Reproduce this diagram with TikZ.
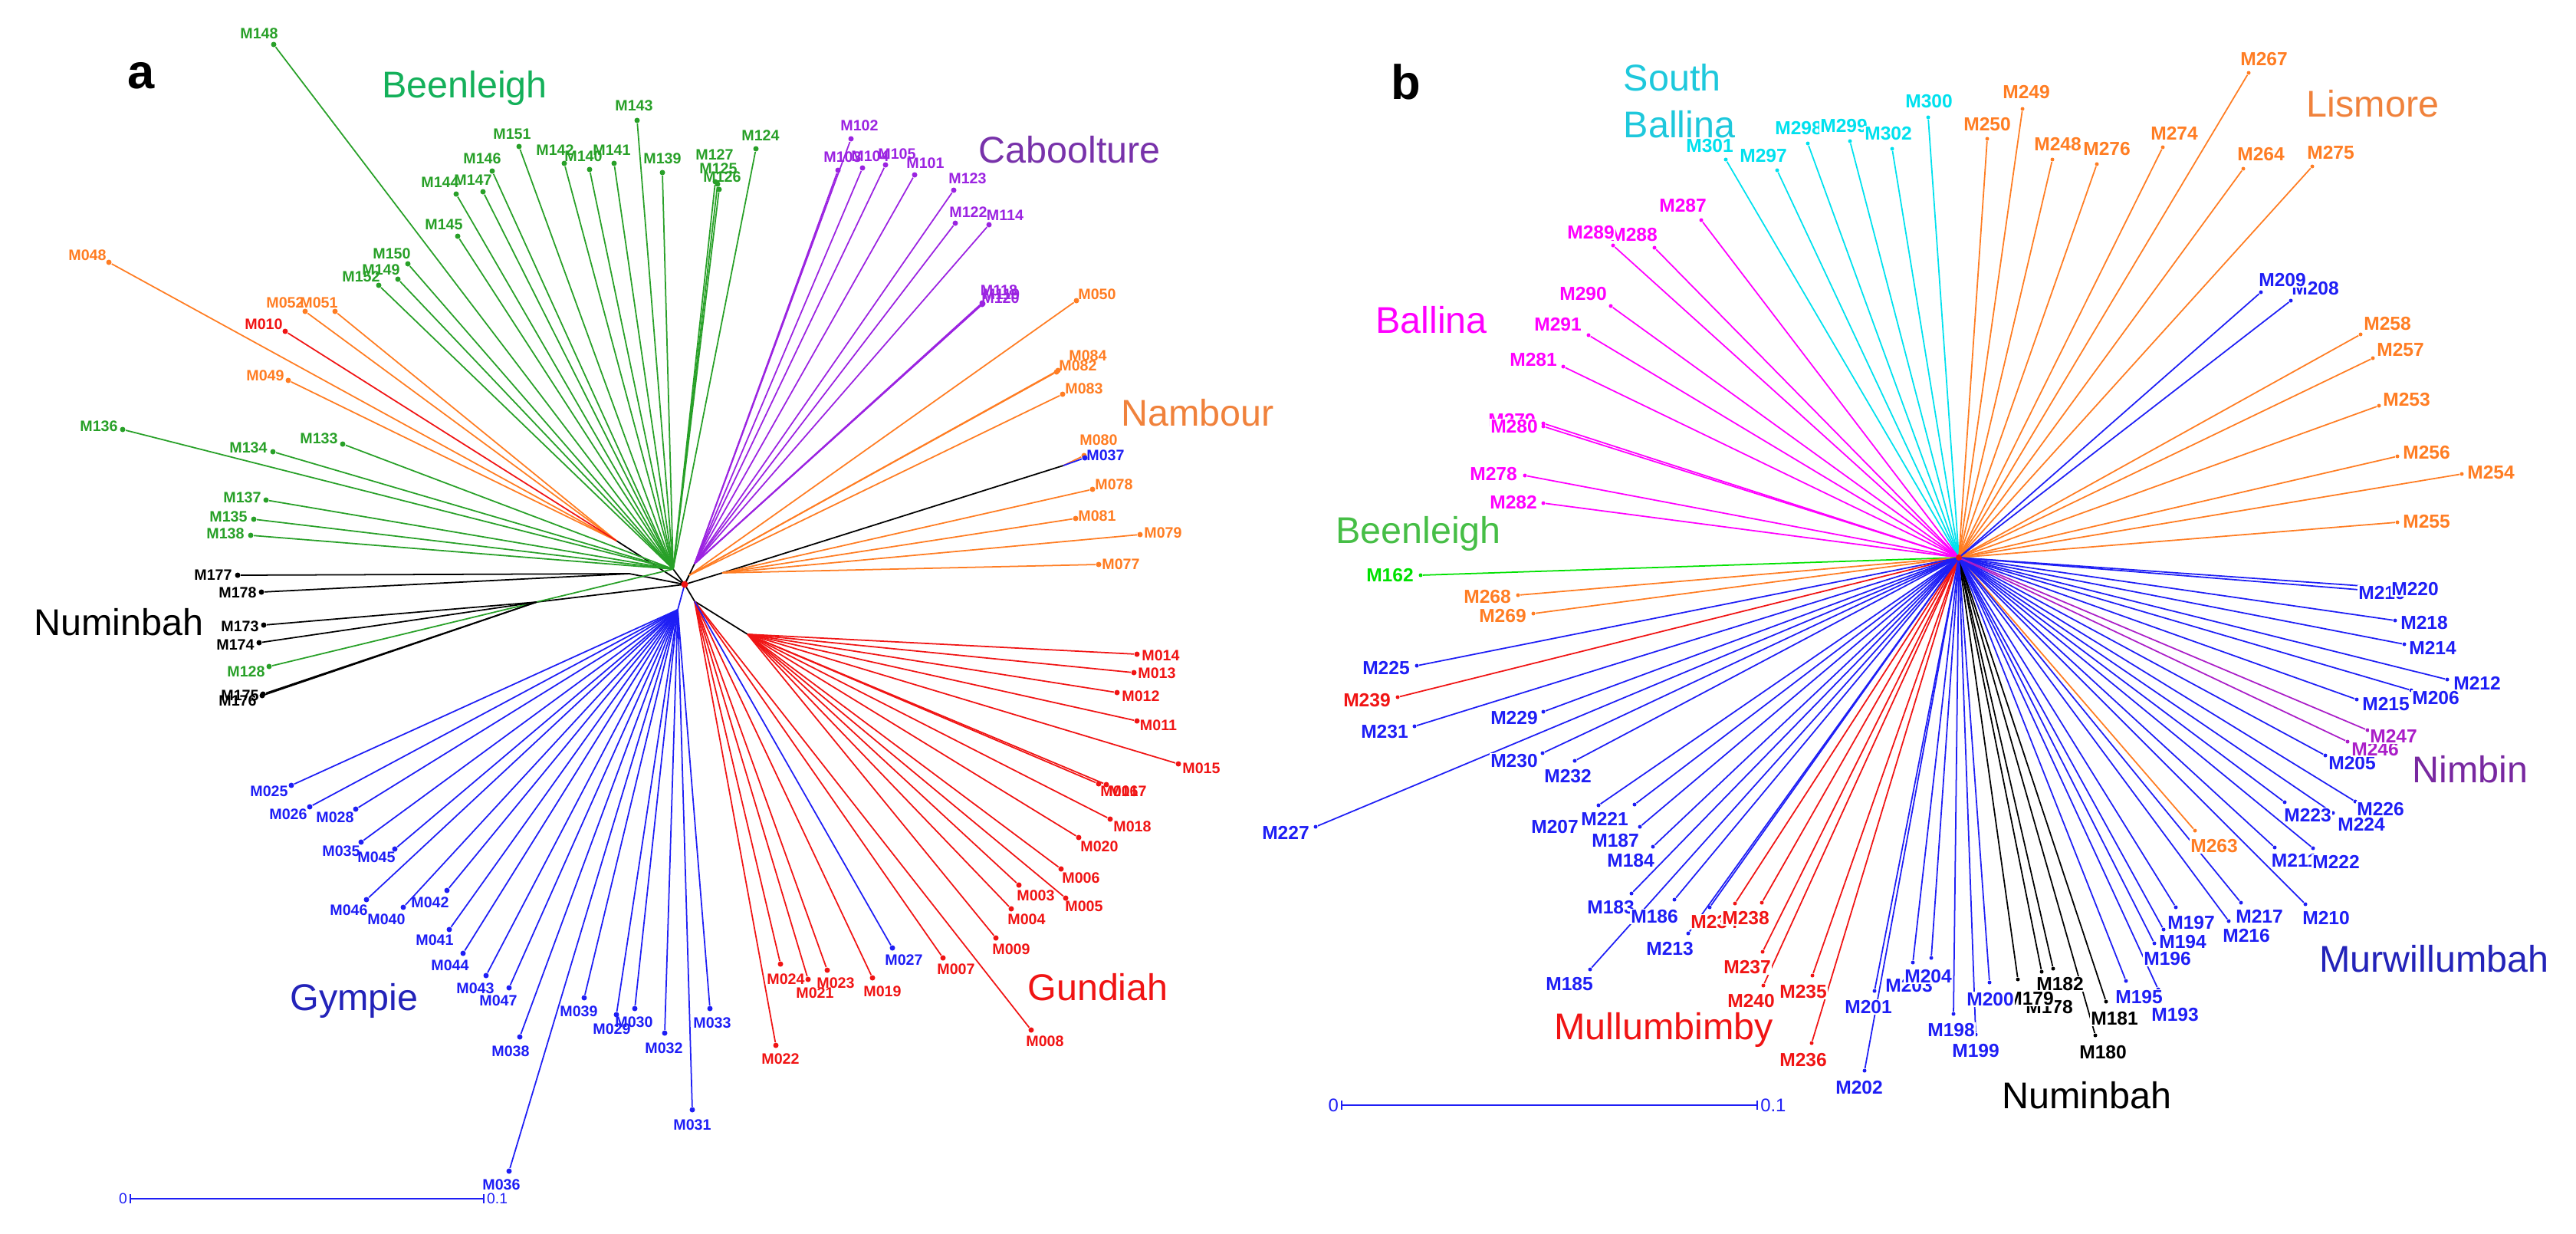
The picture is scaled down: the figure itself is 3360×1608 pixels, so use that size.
\documentclass[tikz,border=0pt]{standalone}
\usepackage{fontspec}
\setmainfont{Liberation Sans}
\pgfdeclarelayer{front}
\pgfsetlayers{main,front}
\definecolor{leafgreen}{RGB}{40,160,40}
\definecolor{cladegreen}{RGB}{20,176,90}
\definecolor{leaforange}{RGB}{255,125,35}
\definecolor{cladeorange}{RGB}{240,130,60}
\definecolor{leafred}{RGB}{240,20,20}
\definecolor{leafpurple}{RGB}{155,35,225}
\definecolor{cladepurple}{RGB}{120,50,170}
\definecolor{leafblue}{RGB}{30,30,245}
\definecolor{cladeblue}{RGB}{35,35,185}
\definecolor{limegreen}{RGB}{0,225,0}
\definecolor{cladelime}{RGB}{70,190,70}
\definecolor{leafcyan}{RGB}{0,225,238}
\definecolor{cladecyan}{RGB}{30,200,220}
\definecolor{leafmagenta}{RGB}{255,0,255}
\definecolor{leafviolet}{RGB}{170,30,200}
\definecolor{cladeviolet}{RGB}{120,40,160}
\tikzset{tipa/.style={circle,inner sep=0pt,minimum size=0.7mm},
    tipb/.style={circle,inner sep=0pt,minimum size=0.5mm},
    twig/.style={line width=0.5pt},
    laba/.style={font=\bfseries\fontsize{5.6}{6}\selectfont,inner sep=0pt},
    labb/.style={font=\bfseries\fontsize{7}{8}\selectfont,inner sep=0.4pt,fill=white},
    clade/.style={font=\fontsize{13.8}{17.3}\selectfont,inner sep=0pt},
    panel/.style={font=\bfseries\fontsize{18}{20}\selectfont,inner sep=0pt},
    scalebar/.style={leafblue,line width=0.5pt}}
\def\tipcol{black}
% tip of panel a: hub, name, x, y, label x, label y
\newcommand{\tipA}[6]{%
  \node[tipa,fill=\tipcol] (a#2) at (#3,#4) {};
  \draw[twig,draw=\tipcol] (#1) -- (a#2);
  \begin{pgfonlayer}{front}\node[laba,text=\tipcol] (la#2) at (#5,#6) {#2};\end{pgfonlayer}}
% tip of panel b
\newcommand{\tipB}[6]{%
  \node[tipb,fill=\tipcol] (b#2) at (#3,#4) {};
  \draw[twig,draw=\tipcol] (#1) -- (b#2);
  \begin{pgfonlayer}{front}\node[labb,text=\tipcol] (lb#2) at (#5,#6) {#2};\end{pgfonlayer}}

\begin{document}
\begin{tikzpicture}[x=0.1mm,y=-0.1mm]
\useasboundingbox (0,0) rectangle (3360,1608);

% panel a
\coordinate (ca) at (893,762);
\coordinate (gA) at (878,742);
\coordinate (oA1) at (804,705);
\coordinate (kA1) at (821,748);
\coordinate (kA2) at (700,785);
\coordinate (bA) at (884,795);
\coordinate (rA1) at (906,784);
\coordinate (rA2) at (975,827);
\coordinate (pA) at (906,735);
\coordinate (oA2) at (899,750);
\coordinate (oA3) at (942,747);
\coordinate (kA3) at (1387,607);
\draw[twig] (ca) -- (gA);
\draw[twig] (ca) -- (oA1);
\draw[twig] (ca) -- (kA1);
\draw[twig] (ca) -- (kA2);
\draw[twig,leafblue] (ca) -- (bA);
\draw[twig] (ca) -- (rA1) -- (rA2);
\draw[twig] (ca) -- (pA);
\draw[twig] (ca) -- (oA2);
\draw[twig] (ca) -- (oA3) -- (kA3);

\def\tipcol{leafgreen}
\tipA{gA}{M148}{357}{58}{338}{44}
\tipA{gA}{M143}{831}{157}{827}{138}
\tipA{gA}{M151}{677}{191}{668}{175}
\tipA{gA}{M146}{642}{223}{629}{207}
\tipA{gA}{M144}{595}{253}{574}{238}
\tipA{gA}{M147}{630}{250}{617}{235}
\tipA{gA}{M142}{736}{213}{724}{196}
\tipA{gA}{M140}{769}{221}{761}{204}
\tipA{gA}{M141}{801}{213}{798}{196}
\tipA{gA}{M139}{864}{225}{864}{207}
\tipA{gA}{M145}{597}{308}{579}{293}
\tipA{gA}{M150}{532}{344}{511}{331}
\tipA{gA}{M149}{519}{364}{497}{352}
\tipA{gA}{M152}{494}{372}{471}{361}
\tipA{gA}{M124}{986}{194}{992}{177}
\tipA{gA}{M127}{933}{237}{932}{202}
\tipA{gA}{M125}{936}{240}{937}{220}
\tipA{gA}{M126}{938}{247}{942}{231}
\tipA{gA}{M136}{160}{560}{129}{556}
\tipA{gA}{M134}{356}{589}{324}{584}
\tipA{gA}{M133}{447}{579}{416}{572}
\tipA{gA}{M137}{347}{652}{316}{649}
\tipA{gA}{M135}{331}{677}{298}{674}
\tipA{gA}{M138}{327}{698}{294}{696}
\tipA{gA}{M128}{351}{869}{321}{876}

\def\tipcol{leaforange}
\tipA{oA1}{M048}{142}{342}{114}{333}
\tipA{oA1}{M052}{398}{406}{372}{395}
\tipA{oA1}{M051}{437}{406}{416}{395}
\tipA{oA1}{M049}{376}{496}{346}{490}
\tipA{oA2}{M050}{1404}{392}{1431}{384}
\tipA{oA2}{M084}{1380}{483}{1419}{464}
\tipA{oA2}{M082}{1378}{485}{1406}{477}
\tipA{oA2}{M083}{1386}{514}{1414}{507}
\tipA{oA3}{M078}{1425}{638}{1453}{632}
\tipA{oA3}{M081}{1403}{676}{1431}{673}
\tipA{oA3}{M079}{1487}{697}{1517}{695}
\tipA{oA3}{M077}{1433}{736}{1462}{736}
\tipA{kA3}{M080}{1414}{594}{1433}{574}

\def\tipcol{black}
\tipA{kA1}{M177}{310}{750}{278}{750}
\tipA{kA1}{M178}{341}{772}{310}{773}
\tipA{kA2}{M173}{344}{815}{313}{817}
\tipA{kA2}{M174}{338}{838}{307}{841}
\tipA{kA2}{M175}{343}{905}{313}{907}
\tipA{kA2}{M176}{342}{907}{310}{914}

\def\tipcol{leafpurple}
\tipA{pA}{M102}{1110}{181}{1121}{164}
\tipA{pA}{M103}{1093}{222}{1099}{205}
\tipA{pA}{M104}{1125}{219}{1135}{204}
\tipA{pA}{M105}{1155}{215}{1170}{201}
\tipA{pA}{M101}{1193}{228}{1207}{213}
\tipA{pA}{M123}{1244}{248}{1262}{233}
\tipA{pA}{M122}{1246}{291}{1263}{277}
\tipA{pA}{M114}{1290}{293}{1311}{281}
\tipA{pA}{M118}{1281}{395}{1303}{379}
\tipA{pA}{M119}{1282}{396}{1306}{384}
\tipA{pA}{M120}{1281}{397}{1305}{389}

\def\tipcol{leafred}
\tipA{oA1}{M010}{372}{432}{344}{423}
\tipA{rA2}{M014}{1483}{853}{1514}{855}
\tipA{rA2}{M013}{1479}{877}{1509}{878}
\tipA{rA2}{M012}{1457}{903}{1488}{908}
\tipA{rA2}{M011}{1483}{940}{1511}{946}
\tipA{rA2}{M015}{1537}{996}{1567}{1002}
\tipA{rA2}{M016}{1433}{1022}{1460}{1032}
\tipA{rA2}{M017}{1443}{1023}{1471}{1032}
\tipA{rA2}{M018}{1448}{1068}{1477}{1078}
\tipA{rA2}{M020}{1407}{1092}{1434}{1104}
\tipA{rA2}{M006}{1384}{1133}{1410}{1145}
\tipA{rA2}{M003}{1329}{1154}{1351}{1168}
\tipA{rA2}{M005}{1390}{1171}{1414}{1182}
\tipA{rA2}{M004}{1319}{1185}{1339}{1199}
\tipA{rA2}{M009}{1299}{1223}{1319}{1238}
\tipA{rA1}{M007}{1230}{1249}{1247}{1264}
\tipA{rA1}{M008}{1345}{1343}{1363}{1358}
\tipA{rA1}{M019}{1138}{1275}{1151}{1293}
\tipA{rA1}{M023}{1079}{1265}{1090}{1282}
\tipA{rA1}{M021}{1054}{1277}{1063}{1295}
\tipA{rA1}{M024}{1018}{1257}{1025}{1277}
\tipA{rA1}{M022}{1012}{1363}{1018}{1381}

\def\tipcol{leafblue}
\tipA{bA}{M025}{380}{1024}{351}{1032}
\tipA{bA}{M026}{404}{1052}{376}{1062}
\tipA{bA}{M028}{464}{1055}{437}{1066}
\tipA{bA}{M035}{471}{1098}{445}{1110}
\tipA{bA}{M045}{515}{1107}{491}{1118}
\tipA{bA}{M046}{478}{1173}{455}{1187}
\tipA{bA}{M040}{526}{1183}{504}{1199}
\tipA{bA}{M042}{583}{1161}{561}{1177}
\tipA{bA}{M041}{586}{1212}{567}{1226}
\tipA{bA}{M044}{604}{1243}{587}{1259}
\tipA{bA}{M043}{634}{1272}{620}{1289}
\tipA{bA}{M047}{664}{1288}{650}{1305}
\tipA{bA}{M038}{678}{1352}{666}{1371}
\tipA{bA}{M039}{762}{1301}{755}{1319}
\tipA{bA}{M029}{804}{1323}{798}{1342}
\tipA{bA}{M030}{828}{1315}{827}{1333}
\tipA{bA}{M032}{867}{1347}{866}{1367}
\tipA{bA}{M036}{664}{1527}{654}{1545}
\tipA{bA}{M031}{903}{1447}{903}{1467}
\tipA{bA}{M033}{926}{1315}{929}{1334}
\tipA{rA1}{M027}{1164}{1236}{1179}{1252}
\tipA{kA3}{M037}{1415}{597}{1442}{594}

\begin{pgfonlayer}{front}
\node[tipa,fill=leafred,minimum size=0.9mm] (roota) at (ca) {};
\end{pgfonlayer}

\node[panel] (pa) at (184,99) {a};
\node[clade,cladegreen] (beenleigha) at (606,115) {Beenleigh};
\node[clade,cladepurple] (caboolture) at (1395,195) {Caboolture};
\node[clade,cladeorange] (nambour) at (1562,538) {Nambour};
\node[clade] (numinbaha) at (155,811) {Numinbah};
\node[clade,cladeblue] (gympie) at (462,1305) {Gympie};
\node[clade,leafred] (gundiah) at (1432,1287) {Gundiah};

\coordinate (sa0) at (170,1563);
\coordinate (sa1) at (631,1563);
\draw[scalebar] (sa0) -- (sa1);
\draw[scalebar] ([yshift=-0.6mm]sa0) -- ([yshift=0.6mm]sa0);
\draw[scalebar] ([yshift=-0.6mm]sa1) -- ([yshift=0.6mm]sa1);
\node[left,leafblue,font=\fontsize{5.5}{6}\selectfont,inner sep=1pt] (za) at (sa0) {0};
\node[right,leafblue,font=\fontsize{5.5}{6}\selectfont,inner sep=1pt] (ta) at (sa1) {0.1};

% panel b
\coordinate (cb) at (2555,727);

\def\tipcol{leafcyan}
\tipB{cb}{M301}{2251}{208}{2230}{190}
\tipB{cb}{M297}{2318}{222}{2300}{203}
\tipB{cb}{M298}{2358}{187}{2346}{167}
\tipB{cb}{M299}{2413}{184}{2405}{164}
\tipB{cb}{M302}{2468}{194}{2463}{174}
\tipB{cb}{M300}{2515}{153}{2516}{132}

\def\tipcol{leafmagenta}
\tipB{cb}{M287}{2219}{287}{2195}{268}
\tipB{cb}{M288}{2158}{323}{2131}{306}
\tipB{cb}{M289}{2104}{320}{2075}{303}
\tipB{cb}{M290}{2101}{399}{2065}{383}
\tipB{cb}{M291}{2072}{437}{2032}{423}
\tipB{cb}{M281}{2039}{478}{2000}{469}
\tipB{cb}{M279}{2013}{552}{1972}{548}
\tipB{cb}{M280}{2013}{556}{1975}{556}
\tipB{cb}{M278}{1989}{620}{1948}{618}
\tipB{cb}{M282}{2013}{656}{1974}{655}

\def\tipcol{limegreen}
\tipB{cb}{M162}{1853}{750}{1813}{750}

\def\tipcol{leaforange}
\tipB{cb}{M268}{1980}{776}{1940}{778}
\tipB{cb}{M269}{2000}{800}{1960}{803}
\tipB{cb}{M250}{2592}{181}{2592}{162}
\tipB{cb}{M249}{2638}{142}{2643}{120}
\tipB{cb}{M248}{2677}{208}{2684}{188}
\tipB{cb}{M276}{2735}{214}{2748}{194}
\tipB{cb}{M274}{2821}{192}{2836}{174}
\tipB{cb}{M267}{2933}{95}{2953}{77}
\tipB{cb}{M264}{2926}{220}{2949}{201}
\tipB{cb}{M275}{3016}{217}{3040}{199}
\tipB{cb}{M258}{3079}{436}{3114}{422}
\tipB{cb}{M257}{3095}{467}{3131}{456}
\tipB{cb}{M253}{3103}{529}{3139}{521}
\tipB{cb}{M256}{3127}{595}{3165}{590}
\tipB{cb}{M254}{3211}{618}{3249}{616}
\tipB{cb}{M255}{3127}{681}{3165}{680}
\tipB{cb}{M263}{2863}{1083}{2888}{1103}

\def\tipcol{leafred}
\tipB{cb}{M239}{1823}{909}{1783}{913}
\tipB{cb}{M234}{2263}{1178}{2236}{1202}
\tipB{cb}{M238}{2298}{1177}{2277}{1197}
\tipB{cb}{M237}{2299}{1241}{2279}{1261}
\tipB{cb}{M240}{2300}{1285}{2284}{1305}
\tipB{cb}{M235}{2364}{1272}{2352}{1293}
\tipB{cb}{M236}{2363}{1360}{2352}{1382}

\def\tipcol{black}
\tipB{cb}{M178}{2663}{1267}{2673}{1313}
\tipB{cb}{M179}{2632}{1277}{2648}{1302}
\tipB{cb}{M182}{2678}{1263}{2687}{1283}
\tipB{cb}{M181}{2747}{1306}{2758}{1328}
\tipB{cb}{M180}{2733}{1350}{2743}{1372}

\def\tipcol{leafblue}
\tipB{cb}{M208}{2988}{392}{3020}{376}
\tipB{cb}{M209}{2949}{381}{2977}{365}
\tipB{cb}{M219}{3078}{769}{3107}{773}
\tipB{cb}{M220}{3110}{766}{3150}{768}
\tipB{cb}{M218}{3124}{809}{3162}{812}
\tipB{cb}{M214}{3136}{840}{3173}{845}
\tipB{cb}{M212}{3192}{886}{3231}{891}
\tipB{cb}{M206}{3145}{900}{3177}{910}
\tipB{cb}{M215}{3074}{912}{3112}{918}
\tipB{cb}{M205}{3033}{985}{3068}{995}
\tipB{cb}{M224}{3043}{1060}{3080}{1075}
\tipB{cb}{M223}{2980}{1046}{3010}{1063}
\tipB{cb}{M226}{3072}{1045}{3105}{1055}
\tipB{cb}{M211}{2967}{1105}{2993}{1122}
\tipB{cb}{M222}{3017}{1106}{3047}{1124}
\tipB{cb}{M210}{3007}{1179}{3034}{1197}
\tipB{cb}{M217}{2923}{1177}{2947}{1195}
\tipB{cb}{M216}{2907}{1201}{2930}{1220}
\tipB{cb}{M197}{2838}{1183}{2858}{1203}
\tipB{cb}{M194}{2822}{1212}{2847}{1228}
\tipB{cb}{M196}{2810}{1230}{2827}{1250}
\tipB{cb}{M195}{2773}{1279}{2790}{1300}
\tipB{cb}{M193}{2815}{1290}{2837}{1323}
\tipB{cb}{M200}{2595}{1281}{2596}{1303}
\tipB{cb}{M198}{2548}{1322}{2545}{1343}
\tipB{cb}{M199}{2577}{1349}{2577}{1370}
\tipB{cb}{M203}{2495}{1255}{2490}{1285}
\tipB{cb}{M204}{2519}{1249}{2515}{1273}
\tipB{cb}{M201}{2445}{1292}{2437}{1313}
\tipB{cb}{M202}{2432}{1396}{2425}{1418}
\tipB{cb}{M225}{1848}{868}{1808}{871}
\tipB{cb}{M231}{1845}{947}{1806}{954}
\tipB{cb}{M229}{2013}{928}{1975}{936}
\tipB{cb}{M230}{2012}{982}{1975}{992}
\tipB{cb}{M232}{2054}{992}{2045}{1012}
\tipB{cb}{M227}{1716}{1078}{1677}{1086}
\tipB{cb}{M207}{2085}{1050}{2028}{1078}
\tipB{cb}{M221}{2132}{1049}{2093}{1068}
\tipB{cb}{M187}{2139}{1078}{2107}{1096}
\tipB{cb}{M184}{2156}{1104}{2127}{1122}
\tipB{cb}{M183}{2128}{1165}{2101}{1183}
\tipB{cb}{M186}{2184}{1173}{2158}{1195}
\tipB{cb}{M185}{2074}{1264}{2047}{1283}
\tipB{cb}{M213}{2202}{1217}{2178}{1237}
\node[tipb,fill=leafblue] (bopen) at (2230,1183) {};
\draw[twig,leafblue] (cb) -- (bopen);

\def\tipcol{leafviolet}
\tipB{cb}{M246}{3062}{967}{3098}{977}
\tipB{cb}{M247}{3088}{952}{3122}{960}

\begin{pgfonlayer}{front}
\node[tipb,fill=leafred,minimum size=0.8mm] (rootb) at (cb) {};
\end{pgfonlayer}

\node[panel] (pb) at (1834,107) {b};
\node[clade,cladecyan,align=left,anchor=west] (southballina) at (2117,132) {South\\Ballina};
\node[clade,cladeorange] (lismore) at (3095,135) {Lismore};
\node[clade,leafmagenta] (ballina) at (1867,417) {Ballina};
\node[clade,cladelime] (beenleighb) at (1850,696) {Beenleigh};
\node[clade,leafred] (mullumbimby) at (2170,1343) {Mullumbimby};
\node[clade] (numinbahb) at (2722,1428) {Numinbah};
\node[clade,cladeblue] (murwillumbah) at (3175,1250) {Murwillumbah};
\node[clade,cladeviolet] (nimbin) at (3222,1003) {Nimbin};

\coordinate (sb0) at (1750,1441);
\coordinate (sb1) at (2292,1441);
\draw[scalebar] (sb0) -- (sb1);
\draw[scalebar] ([yshift=-0.6mm]sb0) -- ([yshift=0.6mm]sb0);
\draw[scalebar] ([yshift=-0.6mm]sb1) -- ([yshift=0.6mm]sb1);
\node[left,leafblue,font=\fontsize{6.8}{7}\selectfont,inner sep=1pt] (zb) at (sb0) {0};
\node[right,leafblue,font=\fontsize{6.8}{7}\selectfont,inner sep=1pt] (tb) at (sb1) {0.1};
\end{tikzpicture}
\end{document}
